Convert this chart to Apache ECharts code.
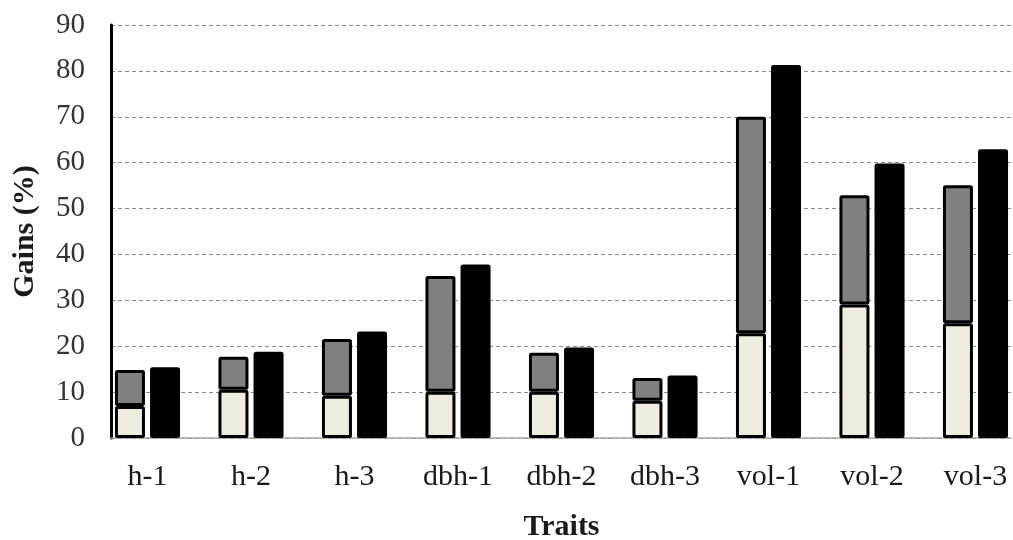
<!DOCTYPE html>
<html>
<head>
<meta charset="utf-8">
<script src="https://cdn.jsdelivr.net/npm/echarts@6/dist/echarts.min.js"></script>
<style>
  html, body { margin: 0; padding: 0; background: #fff; }
  #chart { width: 1013px; height: 540px; }
</style>
</head>
<body>
<div id="chart"></div>
<script>
// data
const traits = ['h-1', 'h-2', 'h-3', 'dbh-1', 'dbh-2', 'dbh-3', 'vol-1', 'vol-2', 'vol-3']
const baseGain = [7.0, 10.5, 9.2, 10.1, 10.1, 8.1, 22.8, 29.1, 25.0]
const extraGain = [7.8, 7.2, 12.4, 25.2, 8.5, 5.0, 47.2, 23.8, 30.1]
const totalGain = [15.4, 18.8, 23.2, 37.8, 19.7, 13.6, 81.3, 59.8, 62.9]
const yTicks = { min: 0, max: 90, interval: 10 }

const serif = "'Liberation Serif', 'Times New Roman', serif"
const creamColor = '#eeebdf'
const grayColor = '#808080'

const chart = echarts.init(document.getElementById('chart'))

const barStyle = (c) => ({
  color: c,
  borderColor: '#000',
  borderWidth: 3,
  borderRadius: 1
})

const option = {
  animation: false,
  grid: [
    // bars (wider than the canvas, first band starts left of the y axis)
    { left: 95.75, width: 931.5, top: 25, bottom: 102, containLabel: false, outerBoundsMode: 'none' },
    // gridlines + y axis
    { left: 111, right: 2, top: 25, bottom: 102, containLabel: false, outerBoundsMode: 'none' }
  ],
  xAxis: [
    {
      type: 'category',
      gridIndex: 0,
      data: traits,
      axisLine: { show: false },
      axisTick: { show: false },
      axisLabel: { fontFamily: serif, fontSize: 30, color: '#1a1a1a', margin: 24 },
      name: 'Traits',
      nameLocation: 'middle',
      nameGap: 74,
      nameTextStyle: { fontFamily: serif, fontSize: 30, fontWeight: 'bold', color: '#1a1a1a' }
    },
    {
      type: 'category',
      gridIndex: 1,
      data: [''],
      axisLine: { show: true, lineStyle: { color: '#a6a6a6', width: 1.5 } },
      axisTick: { show: false },
      axisLabel: { show: false }
    }
  ],
  yAxis: [
    {
      type: 'value',
      gridIndex: 0,
      min: yTicks.min,
      max: yTicks.max,
      interval: yTicks.interval,
      show: false
    },
    {
      type: 'value',
      gridIndex: 1,
      min: yTicks.min,
      max: yTicks.max,
      interval: yTicks.interval,
      axisLine: { show: true, lineStyle: { color: '#000', width: 3 } },
      axisTick: { show: false },
      axisLabel: { fontFamily: serif, fontSize: 29, color: '#333', margin: 26 },
      splitLine: { show: true, lineStyle: { color: '#8c8c8c', type: [4, 3], width: 1 } },
      name: 'Gains (%)',
      nameLocation: 'middle',
      nameGap: 71,
      nameTextStyle: { fontFamily: serif, fontSize: 30, fontWeight: 'bold', color: '#1a1a1a' }
    }
  ],
  series: [
    {
      name: 'base',
      type: 'bar',
      stack: 'gain',
      xAxisIndex: 0,
      yAxisIndex: 0,
      barWidth: 30,
      barGap: '17%',
      data: baseGain,
      itemStyle: barStyle(creamColor)
    },
    {
      name: 'extra',
      type: 'bar',
      stack: 'gain',
      xAxisIndex: 0,
      yAxisIndex: 0,
      barWidth: 30,
      data: extraGain,
      itemStyle: barStyle(grayColor)
    },
    {
      name: 'total',
      type: 'bar',
      xAxisIndex: 0,
      yAxisIndex: 0,
      barWidth: 30,
      barGap: '17%',
      data: totalGain,
      itemStyle: barStyle('#000')
    }
  ]
}

chart.setOption(option)
</script>
</body>
</html>
